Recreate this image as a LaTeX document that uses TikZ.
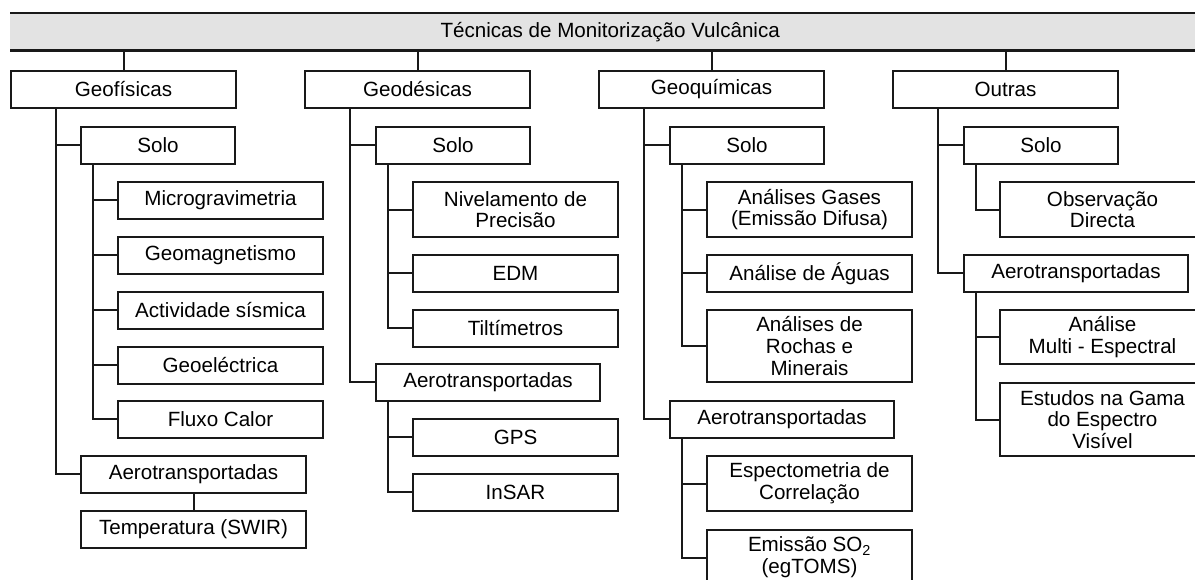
\documentclass[tikz,border=0pt]{standalone}
\usepackage{fontspec}
\setmainfont{Liberation Sans}
\usepackage{tikz}

\tikzset{
  box/.style={draw=black!90, line width=2pt, inner sep=0pt, align=center, anchor=north west,
    minimum height=36.5pt, font=\fontsize{20.6}{21.7}\selectfont},
  mainbox/.style={box, minimum width=225pt},
  solobox/.style={box, minimum width=154pt},
  aerobox/.style={box, minimum width=224pt},
  leafbox/.style={box, minimum width=205pt},
  link/.style={black!90, line width=2pt},
  barline/.style={black!90, line width=2.6pt}
}

\begin{document}
\begin{tikzpicture}[x=1pt,y=-1pt]
            \clip (0,0) rectangle (1195,579);
            \fill[white] (0,0) rectangle (1195,579);
            \node[fill=black!11, minimum width=1200pt, minimum height=37pt, inner sep=0pt, anchor=north west,
              font=\fontsize{20.6}{21.7}\selectfont] (title) at (10,13) {T\'ecnicas de Monitoriza\c{c}\~ao Vulc\^anica};
            \draw[barline] (title.north west) -- (title.north east);
            \draw[barline] (title.south west) -- (title.south east);

            \node[mainbox] (geof) at (10,70) {Geof\'isicas};
            \node[mainbox] (geod) at (304,70) {Geod\'esicas};
            \node[mainbox] (geoq) at (598,70) {Geoqu\'imicas};
            \node[mainbox] (outr) at (892,70) {Outras};
            \foreach \n in {geof,geod,geoq,outr}
              \draw[link] (title.south -| \n.north) -- (\n.north);

            \node[solobox] (gfsolo) at (80,126) {Solo};
            \node[leafbox] (gfmicro) at (117,181) {Microgravimetria};
            \node[leafbox] (gfmag) at (117,236) {Geomagnetismo};
            \node[leafbox] (gfsism) at (117,291) {Actividade s\'ismica};
            \node[leafbox] (gfelec) at (117,346) {Geoel\'ectrica};
            \node[leafbox] (gfcalor) at (117,400) {Fluxo Calor};
            \node[aerobox, minimum width=225pt] (gfaero) at (80,455) {Aerotransportadas};
            \node[aerobox, minimum width=225pt] (gftemp) at (80,510) {Temperatura (SWIR)};
            \draw[link] ([xshift=46pt]geof.south west) |- (gfsolo.west);
            \draw[link] ([xshift=46pt]geof.south west) |- (gfaero.west);
            \foreach \n in {gfmicro,gfmag,gfsism,gfelec,gfcalor}
              \draw[link] ([xshift=13pt]gfsolo.south west) |- (\n.west);
            \draw[link] (gfaero) -- (gftemp);

            \node[solobox] (gdsolo) at (375,126) {Solo};
            \node[leafbox, minimum height=55pt] (gdnivel) at (412,181) {Nivelamento de\\Precis\~ao};
            \node[leafbox] (gdedm) at (412,254) {EDM};
            \node[leafbox] (gdtilt) at (412,309) {Tilt\'imetros};
            \node[aerobox] (gdaero) at (375,363) {Aerotransportadas};
            \node[leafbox] (gdgps) at (412,418) {GPS};
            \node[leafbox] (gdinsar) at (412,473) {InSAR};
            \draw[link] ([xshift=46pt]geod.south west) |- (gdsolo.west);
            \draw[link] ([xshift=46pt]geod.south west) |- (gdaero.west);
            \foreach \n in {gdnivel,gdedm,gdtilt}
              \draw[link] ([xshift=12.5pt]gdsolo.south west) |- (\n.west);
            \foreach \n in {gdgps,gdinsar}
              \draw[link] ([xshift=12.5pt]gdaero.south west) |- (\n.west);

            \node[solobox] (gqsolo) at (669,126) {Solo};
            \node[leafbox, minimum height=55pt] (gqgases) at (706,181) {An\'alises Gases\\(Emiss\~ao Difusa)};
            \node[leafbox] (gqaguas) at (706,254) {An\'alise de \'Aguas};
            \node[leafbox, minimum height=72pt] (gqrochas) at (706,309) {An\'alises de\\Rochas e\\Minerais};
            \node[aerobox] (gqaero) at (669,400) {Aerotransportadas};
            \node[leafbox, minimum height=55pt] (gqespec) at (706,455) {Espectometria de\\Correla\c{c}\~ao};
            \node[leafbox, minimum height=55pt] (gqso) at (706,529) {Emiss\~ao SO\textsubscript{2}\\(egTOMS)};
            \draw[link] ([xshift=46pt]geoq.south west) |- (gqsolo.west);
            \draw[link] ([xshift=46pt]geoq.south west) |- (gqaero.west);
            \foreach \n in {gqgases,gqaguas,gqrochas}
              \draw[link] ([xshift=12.5pt]gqsolo.south west) |- (\n.west);
            \foreach \n in {gqespec,gqso}
              \draw[link] ([xshift=12.5pt]gqaero.south west) |- (\n.west);

            \node[solobox] (otsolo) at (963,126) {Solo};
            \node[leafbox, minimum height=55pt] (otobs) at (999,181) {Observa\c{c}\~ao\\Directa};
            \node[aerobox] (otaero) at (963,254) {Aerotransportadas};
            \node[leafbox, minimum height=54pt] (otmulti) at (999,309) {An\'alise\\Multi - Espectral};
            \node[leafbox, minimum height=73pt] (otgama) at (999,382) {Estudos na Gama\\do Espectro\\Vis\'ivel};
            \draw[link] ([xshift=46pt]outr.south west) |- (otsolo.west);
            \draw[link] ([xshift=46pt]outr.south west) |- (otaero.west);
            \draw[link] ([xshift=13pt]otsolo.south west) |- (otobs.west);
            \foreach \n in {otmulti,otgama}
              \draw[link] ([xshift=13pt]otaero.south west) |- (\n.west);
\end{tikzpicture}
\end{document}
